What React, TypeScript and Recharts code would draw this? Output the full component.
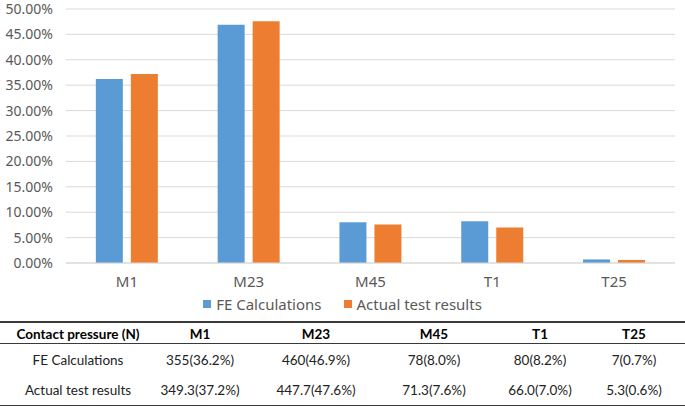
import React from 'react';
import { BarChart, Bar, XAxis, YAxis, CartesianGrid, Legend } from 'recharts';

const categories = ['M1', 'M23', 'M45', 'T1', 'T25'];
const feShares = [0.362, 0.469, 0.08, 0.082, 0.007];
const testShares = [0.372, 0.476, 0.076, 0.07, 0.006];
const yTicks = [0, 0.05, 0.1, 0.15, 0.2, 0.25, 0.3, 0.35, 0.4, 0.45, 0.5];

const tableHeader = ['Contact pressure (N)', 'M1', 'M23', 'M45', 'T1', 'T25'];
const feRow = ['FE Calculations', '355(36.2%)', '460(46.9%)', '78(8.0%)', '80(8.2%)', '7(0.7%)'];
const testRow = ['Actual test results', '349.3(37.2%)', '447.7(47.6%)', '71.3(7.6%)', '66.0(7.0%)', '5.3(0.6%)'];

const BLUE = '#5B9BD5';
const ORANGE = '#ED7D31';
const GREY = '#595959';

const data = categories.map((name, i) => ({ name, fe: feShares[i], test: testShares[i] }));

// column centres of the table under the chart
const colCentres = [78, 200, 316, 434, 540, 634];
const rowCentres = [334, 360, 390];

const LegendContent = () => (
  <div
    style={{
      display: 'flex',
      justifyContent: 'center',
      alignItems: 'center',
      height: 28,
      fontFamily: '"Noto Sans", sans-serif',
      fontSize: 15,
      color: GREY,
    }}
  >
    <span style={{ width: 8, height: 8, background: BLUE, marginRight: 5 }} />
    <span style={{ marginRight: 22 }}>FE Calculations</span>
    <span style={{ width: 8, height: 8, background: ORANGE, marginRight: 5 }} />
    <span>Actual test results</span>
  </div>
);

const Cell = ({ text, x, y, bold }: { text: string; x: number; y: number; bold?: boolean }) => (
  <div
    style={{
      position: 'absolute',
      left: x - 80,
      top: y - 10,
      width: 160,
      height: 20,
      lineHeight: '20px',
      textAlign: 'center',
      fontFamily: 'Lato, sans-serif',
      fontSize: 13.5,
      fontWeight: bold ? 700 : 400,
      color: bold ? '#000' : '#222',
      whiteSpace: 'nowrap',
    }}
  >
    {text}
  </div>
);

const Rule = ({ y }: { y: number }) => (
  <div style={{ position: 'absolute', left: 0, top: y, width: 685, height: 1.5, background: '#3a3a3a' }} />
);

export default function App() {
  return (
    <div style={{ position: 'absolute', left: 0, top: 0, width: 685, height: 407, background: '#fff' }}>
      <BarChart
        width={685}
        height={318}
        data={data}
        margin={{ top: 9, right: 10, left: 0, bottom: 0 }}
        barCategoryGap="24.5%"
        barGap={8}
      >
        <CartesianGrid vertical={false} stroke="#d9d9d9" />
        <XAxis
          dataKey="name"
          height={27}
          tickLine={false}
          tickSize={0}
          tickMargin={13}
          axisLine={{ stroke: '#d9d9d9' }}
          tick={{ fill: GREY, fontSize: 15, fontFamily: '"Noto Sans", sans-serif' }}
        />
        <YAxis
          width={66}
          domain={[0, 0.5]}
          ticks={yTicks}
          axisLine={false}
          tickLine={false}
          tickSize={0}
          tickMargin={13}
          tickFormatter={(v: number) => (v * 100).toFixed(2) + '%'}
          tick={{ fill: GREY, fontSize: 14, fontFamily: '"Noto Sans", sans-serif' }}
        />
        <Legend verticalAlign="bottom" content={<LegendContent />} wrapperStyle={{ left: 0, width: 685 }} />
        <Bar dataKey="fe" name="FE Calculations" fill={BLUE} isAnimationActive={false} />
        <Bar dataKey="test" name="Actual test results" fill={ORANGE} isAnimationActive={false} />
      </BarChart>
      <Rule y={321} />
      <Rule y={342.5} />
      <Rule y={404.5} />
      {tableHeader.map((t, i) => (
        <Cell key={'h' + i} text={t} x={colCentres[i]} y={rowCentres[0]} bold />
      ))}
      {feRow.map((t, i) => (
        <Cell key={'f' + i} text={t} x={colCentres[i]} y={rowCentres[1]} />
      ))}
      {testRow.map((t, i) => (
        <Cell key={'t' + i} text={t} x={colCentres[i]} y={rowCentres[2]} />
      ))}
    </div>
  );
}
